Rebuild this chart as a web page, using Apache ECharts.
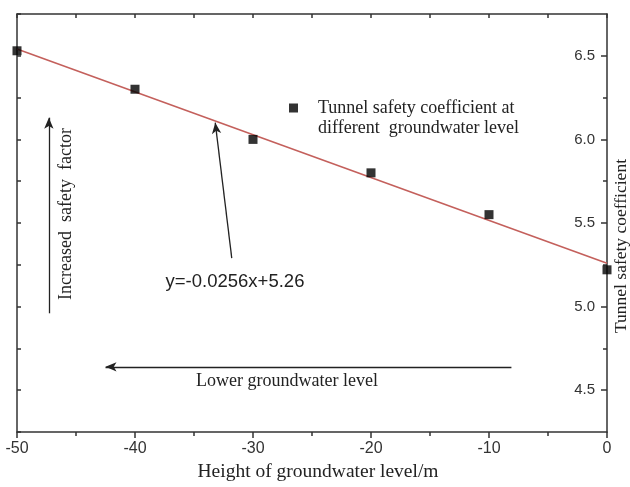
<!DOCTYPE html>
<html lang="en">
<head>
    <meta charset="UTF-8">
    <title>Tunnel safety coefficient</title>
    <script src="https://cdn.jsdelivr.net/npm/echarts@6/dist/echarts.min.js"></script>
    <style>
        html, body { margin: 0; padding: 0; background: #fff; }
    </style>
</head>
<body>
    <div id="main" style="width: 630px;height:487px;"></div>
    <script type="text/javascript">
        // groundwater level (m) and safety coefficient
        var levels = [-50, -40, -30, -20, -10, 0];
        var safety = [6.53, 6.30, 6.00, 5.80, 5.55, 5.22];
        // fitted line y=-0.0256x+5.26, end points
        var fitX = [-50, 0];
        var fitY = [6.54, 5.26];
        // right axis labels and the minor ticks between them
        var yTicks = [4.5, 5.0, 5.5, 6.0, 6.5];
        var yMinor = [4.75, 5.25, 5.75, 6.25];

        var serif = 'Liberation Serif';
        var sans = 'Liberation Sans';
        var ink = '#333';

        var points = [];
        for (var i = 0; i < levels.length; i++) {
            points.push([levels[i], safety[i]]);
        }
        var fit = [];
        for (var j = 0; j < fitX.length; j++) {
            fit.push([fitX[j], fitY[j]]);
        }

        var myChart = echarts.init(document.getElementById('main'));
        var option = {
            animation: false,
            grid: { left: 17, right: 23, top: 14, bottom: 55, outerBoundsMode: 'none' },
            legend: {
                data: ['Tunnel safety coefficient at'],
                left: 284, top: 94,
                icon: 'rect', itemWidth: 9, itemHeight: 9, itemGap: 5,
                textStyle: { fontFamily: serif, fontSize: 18, color: '#222', padding: [0, 0, 0, 15] }
            },
            xAxis: [{
                type: 'value', min: -50, max: 0, interval: 10, position: 'bottom',
                axisLine: { lineStyle: { color: ink, width: 1.5 } },
                axisTick: { length: 6, lineStyle: { color: ink, width: 1.5 } },
                minorTick: { show: true, splitNumber: 2, length: 4, lineStyle: { color: ink, width: 1.5 } },
                splitLine: { show: false },
                axisLabel: { fontFamily: sans, fontSize: 16, color: '#333', margin: 9 },
                name: 'Height of groundwater level/m',
                nameLocation: 'middle', nameGap: 22,
                nameTextStyle: { fontFamily: serif, fontSize: 19.5, color: '#222', verticalAlign: 'top', padding: [0, 0, 0, 12] }
            }, {
                type: 'value', min: -50, max: 0, interval: 5, position: 'top',
                axisLine: { lineStyle: { color: ink, width: 1.5 } },
                axisTick: { inside: true, length: 4, lineStyle: { color: ink, width: 1.5 } },
                splitLine: { show: false },
                axisLabel: { show: false }
            }],
            yAxis: [{
                type: 'value', min: 4.25, max: 6.75, position: 'right',
                axisLine: { show: true, lineStyle: { color: ink, width: 1.5 } },
                axisTick: { show: true, inside: true, length: 6, customValues: yTicks, lineStyle: { color: ink, width: 1.5 } },
                axisLabel: {
                    inside: true, customValues: yTicks, margin: 12,
                    fontFamily: sans, fontSize: 15, color: '#333',
                    formatter: function (v) { return v.toFixed(1); }
                },
                splitLine: { show: false }
            }, {
                type: 'value', min: 4.25, max: 6.75, position: 'right',
                axisLine: { show: false },
                axisTick: { show: true, inside: true, length: 4, customValues: yMinor, lineStyle: { color: ink, width: 1.5 } },
                axisLabel: { show: false },
                splitLine: { show: false }
            }, {
                type: 'value', min: 4.25, max: 6.75, interval: 0.25, position: 'left',
                axisLine: { show: true, lineStyle: { color: ink, width: 1.5 } },
                axisTick: { show: true, inside: true, length: 4, lineStyle: { color: ink, width: 1.5 } },
                axisLabel: { show: false },
                splitLine: { show: false }
            }],
            series: [{
                name: 'fit',
                type: 'line',
                data: fit,
                showSymbol: false,
                lineStyle: { color: '#c4605c', width: 1.6 },
                z: 2,
                markLine: {
                    silent: true,
                    symbol: ['none', 'arrow'],
                    symbolSize: [7, 11],
                    label: { show: false },
                    lineStyle: { color: '#222', width: 1.3, type: 'solid' },
                    data: [
                        [{ coord: [-31.8, 5.29] }, { coord: [-33.2, 6.10] }],
                        [{ coord: [-47.3, 4.96] }, { coord: [-47.3, 6.13] }],
                        [{ coord: [-8.1, 4.64] }, { coord: [-42.5, 4.64] }]
                    ]
                }
            }, {
                name: 'Tunnel safety coefficient at',
                type: 'scatter',
                data: points,
                symbol: 'rect',
                symbolSize: 9,
                itemStyle: { color: '#000' },
                z: 3
            }],
            graphic: [{
                type: 'text', left: 318, top: 119,
                style: { text: 'different  groundwater level', font: '18px "Liberation Serif"', fill: '#222' }
            }, {
                type: 'text', x: 235, y: 282,
                style: { text: 'y=-0.0256x+5.26', font: '18.5px "Liberation Sans"', fill: '#222', align: 'center', verticalAlign: 'middle' }
            }, {
                type: 'text', x: 287, y: 381,
                style: { text: 'Lower groundwater level', font: '18px "Liberation Serif"', fill: '#222', align: 'center', verticalAlign: 'middle' }
            }, {
                type: 'text', x: 66, y: 214, rotation: Math.PI / 2,
                style: { text: 'Increased  safety  factor', font: '18px "Liberation Serif"', fill: '#222', align: 'center', verticalAlign: 'middle' }
            }, {
                // right axis title
                type: 'text', x: 621, y: 246, rotation: Math.PI / 2,
                style: { text: 'Tunnel safety coefficient', font: '17.5px "Liberation Serif"', fill: '#222', align: 'center', verticalAlign: 'middle' }
            }]
        };
        myChart.setOption(option);
    </script>
</body>
</html>
